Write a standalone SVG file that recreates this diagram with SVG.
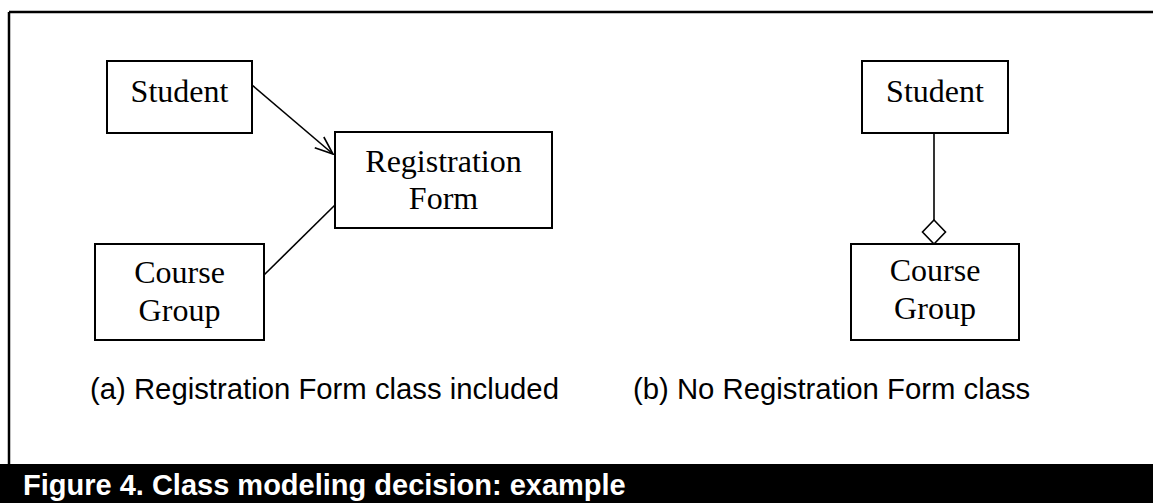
<svg xmlns="http://www.w3.org/2000/svg" width="1153" height="503" viewBox="0 0 1153 503">
  <style>
    .box { fill: #fff; stroke: #000; stroke-width: 2; }
    .lbl { font-family: "Liberation Serif", "Times New Roman", serif; font-size: 32px; fill: #000; text-anchor: middle; }
    .sub { font-family: "Liberation Sans", Arial, sans-serif; font-size: 29.3px; fill: #000; }
    .cap { font-family: "Liberation Sans", Arial, sans-serif; font-size: 29px; font-weight: bold; fill: #fff; }
    .edge { fill: none; stroke: #000; stroke-width: 1.6; }
  </style>
  <defs>
    <marker id="openArrow" viewBox="0 0 20 20" refX="19" refY="10" markerWidth="20" markerHeight="20" markerUnits="userSpaceOnUse" orient="auto">
      <path d="M1,3 L19,10 L1,17" fill="none" stroke="#000" stroke-width="1.6"/>
    </marker>
    <marker id="diamond" viewBox="0 0 26 26" refX="25" refY="13" markerWidth="26" markerHeight="26" markerUnits="userSpaceOnUse" orient="auto">
      <path d="M1,13 L13,1.5 L25,13 L13,24.5 Z" fill="#fff" stroke="#000" stroke-width="1.6"/>
    </marker>
  </defs>

  <rect width="1153" height="503" fill="#fff"/>
  <!-- frame: top and left rules, caption band -->
  <path d="M9,12 H1153 M9,12 V464" fill="none" stroke="#000" stroke-width="2.5"/>
  <rect x="0" y="464" width="1153" height="39" fill="#000"/>
  <text class="cap" x="23" y="495">Figure 4. Class modeling decision: example</text>

  <g id="connectors">
    <line class="edge" x1="252" y1="85" x2="333" y2="154" marker-end="url(#openArrow)"/>
    <line class="edge" x1="335" y1="205" x2="264" y2="275"/>
    <line class="edge" x1="934" y1="133" x2="934" y2="244" marker-end="url(#diamond)"/>
  </g>

  <g id="student-a">
    <rect class="box" x="107" y="61" width="145" height="72"/>
    <text class="lbl" x="179.5" y="102">Student</text>
  </g>
  <g id="registration-form">
    <rect class="box" x="335" y="132" width="217" height="96"/>
    <text class="lbl" x="443.5" y="172">Registration</text>
    <text class="lbl" x="443.5" y="209">Form</text>
  </g>
  <g id="course-group-a">
    <rect class="box" x="95" y="244" width="169" height="96"/>
    <text class="lbl" x="179.5" y="283">Course</text>
    <text class="lbl" x="179.5" y="321">Group</text>
  </g>

  <g id="student-b">
    <rect class="box" x="862" y="61" width="146" height="72"/>
    <text class="lbl" x="935" y="102">Student</text>
  </g>
  <g id="course-group-b">
    <rect class="box" x="851" y="244" width="168" height="96"/>
    <text class="lbl" x="935" y="281">Course</text>
    <text class="lbl" x="935" y="319">Group</text>
  </g>

  <text class="sub" x="90" y="399">(a) Registration Form class included</text>
  <text class="sub" x="633" y="399">(b) No Registration Form class</text>
</svg>
